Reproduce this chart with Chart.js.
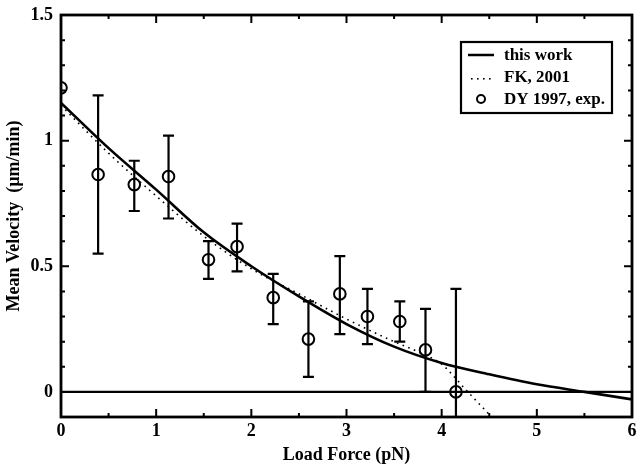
<!DOCTYPE html>
<html>
<head>
<meta charset="utf-8">
<script src="https://cdn.jsdelivr.net/npm/chart.js@4/dist/chart.umd.min.js"></script>
<style>
  html, body { margin: 0; padding: 0; background: #fff; }
  #wrap { width: 637px; height: 466px; }
</style>
</head>
<body>
<div id="wrap"><canvas id="velChart"></canvas></div>
<script>
// experimental points (DY 1997)
const forceExp = [0, 0.39, 0.77, 1.13, 1.55, 1.85, 2.23, 2.6, 2.93, 3.22, 3.56, 3.83, 4.15];
const velExp   = [1.21, 0.865, 0.825, 0.857, 0.526, 0.578, 0.375, 0.21, 0.39, 0.30, 0.28, 0.167, 0];
const errHigh  = [null, 1.18, 0.92, 1.02, 0.60, 0.67, 0.47, 0.36, 0.54, 0.41, 0.36, 0.33, 0.41];
const errLow   = [null, 0.55, 0.72, 0.69, 0.45, 0.48, 0.27, 0.06, 0.23, 0.19, 0.20, 0.0, -0.1];

// model curves
const forceModel  = [0, 0.5, 1, 1.5, 2, 2.5, 3, 3.5, 4, 4.5, 5, 5.5, 6];
const velThisWork = [1.15, 0.97, 0.805, 0.635, 0.50, 0.38, 0.27, 0.18, 0.115, 0.07, 0.03, 0.0, -0.03];
const forceFK     = [0, 0.5, 1, 1.5, 2, 2.5, 3, 3.5, 3.75, 4, 4.25, 4.5];
const velFK       = [1.14, 0.95, 0.78, 0.62, 0.49, 0.39, 0.29, 0.20, 0.16, 0.11, 0.01, -0.09];

const xTicks = [0, 1, 2, 3, 4, 5, 6];
const yTicks = [0, 0.5, 1, 1.5];

const serif = '"Liberation Serif", "Times New Roman", serif';

const toPts = (xs, ys) => xs.map((x, i) => ({ x: x, y: ys[i] }));

// frame, inward ticks, error bars, legend
const decor = {
  id: 'decor',
  afterDatasetsDraw(chart) {
    const ctx = chart.ctx;
    const a = chart.chartArea;
    const xs = chart.scales.x, ys = chart.scales.y;
    ctx.save();
    ctx.strokeStyle = '#000';

    // error bars
    ctx.lineWidth = 2.2;
    forceExp.forEach((f, i) => {
      if (errHigh[i] === null) return;
      const px = xs.getPixelForValue(f);
      const top = ys.getPixelForValue(errHigh[i]);
      const bot = Math.min(ys.getPixelForValue(errLow[i]), a.bottom);
      ctx.beginPath();
      ctx.moveTo(px, top); ctx.lineTo(px, bot);
      ctx.moveTo(px - 5.5, top); ctx.lineTo(px + 5.5, top);
      if (bot < a.bottom) { ctx.moveTo(px - 5.5, bot); ctx.lineTo(px + 5.5, bot); }
      ctx.stroke();
    });

    // frame
    ctx.lineWidth = 2.8;
    ctx.strokeRect(a.left, a.top, a.right - a.left, a.bottom - a.top);

    // ticks
    ctx.lineWidth = 2;
    ctx.beginPath();
    for (let v = 0; v <= 6.001; v += 0.5) {
      const px = xs.getPixelForValue(v);
      const len = Math.abs(v - Math.round(v)) < 1e-6 ? 8 : 4;
      ctx.moveTo(px, a.bottom); ctx.lineTo(px, a.bottom - len);
      ctx.moveTo(px, a.top); ctx.lineTo(px, a.top + len);
    }
    for (let k = -1; k <= 15; k++) {
      const v = k / 10;
      const py = ys.getPixelForValue(v);
      const len = k % 5 === 0 ? 8 : 4;
      ctx.moveTo(a.left, py); ctx.lineTo(a.left + len, py);
      ctx.moveTo(a.right, py); ctx.lineTo(a.right - len, py);
    }
    ctx.stroke();

    // legend
    const bx = 461, by = 42, bw = 151, bh = 71;
    ctx.fillStyle = '#fff';
    ctx.fillRect(bx, by, bw, bh);
    ctx.lineWidth = 2.2;
    ctx.strokeRect(bx, by, bw, bh);
    ctx.fillStyle = '#000';
    ctx.font = 'bold 17px ' + serif;
    ctx.textBaseline = 'middle';
    const rows = [chart.data.datasets[0].label, chart.data.datasets[1].label, chart.data.datasets[2].label];
    rows.forEach((lab, i) => {
      const ry = by + 13 + i * 22;
      ctx.fillText(lab, bx + 43, ry + 1);
      ctx.beginPath();
      if (i === 0) {
        ctx.lineWidth = 2.5;
        ctx.moveTo(bx + 7, ry); ctx.lineTo(bx + 33, ry); ctx.stroke();
      } else if (i === 1) {
        for (let d = 0; d < 4; d++) ctx.fillRect(bx + 10 + d * 6, ry + 1, 1.6, 1.6);
      } else {
        ctx.lineWidth = 2;
        ctx.arc(bx + 20, ry, 4, 0, Math.PI * 2); ctx.stroke();
      }
    });
    ctx.restore();
  }
};

new Chart(document.getElementById('velChart'), {
  type: 'scatter',
  data: {
    datasets: [
      {
        label: 'this work',
        data: toPts(forceModel, velThisWork),
        showLine: true,
        borderColor: '#000',
        borderWidth: 2.6,
        pointRadius: 0,
        cubicInterpolationMode: 'monotone'
      },
      {
        label: 'FK, 2001',
        data: toPts(forceFK, velFK),
        showLine: true,
        borderColor: '#000',
        borderWidth: 1.6,
        borderDash: [1.6, 4.5],
        pointRadius: 0,
        cubicInterpolationMode: 'monotone'
      },
      {
        label: 'DY 1997, exp.',
        data: toPts(forceExp, velExp),
        showLine: false,
        pointRadius: 5.8,
        pointBorderWidth: 2,
        pointBorderColor: '#000',
        pointBackgroundColor: 'rgba(0,0,0,0)'
      },
      {
        label: 'zero',
        data: toPts([0, 6], [0, 0]),
        showLine: true,
        borderColor: '#000',
        borderWidth: 2.4,
        pointRadius: 0
      }
    ]
  },
  options: {
    responsive: true,
    maintainAspectRatio: false,
    animation: false,
    layout: { autoPadding: false, padding: { top: 15, right: 5, left: 0, bottom: 0 } },
    plugins: {
      legend: { display: false },
      tooltip: { enabled: false }
    },
    scales: {
      x: {
        type: 'linear',
        min: 0,
        max: 6,
        grid: { display: false, drawTicks: false },
        border: { display: false },
        afterBuildTicks: s => { s.ticks = xTicks.map(v => ({ value: v })); },
        afterFit: s => { s.height = 49; s.paddingRight = 0; s.paddingLeft = 0; },
        ticks: {
          color: '#000',
          padding: 4,
          maxRotation: 0,
          font: { family: serif, size: 18, weight: 'bold' },
          callback: v => String(v)
        },
        title: {
          display: true,
          text: 'Load Force (pN)',
          color: '#000',
          padding: { top: 0, bottom: 0 },
          font: { family: serif, size: 18, weight: 'bold' }
        }
      },
      y: {
        type: 'linear',
        min: -0.1,
        max: 1.5,
        grid: { display: false, drawTicks: false },
        border: { display: false },
        afterBuildTicks: s => { s.ticks = yTicks.map(v => ({ value: v })); },
        afterFit: s => { s.width = 61; s.paddingTop = 0; },
        ticks: {
          color: '#000',
          padding: 8,
          font: { family: serif, size: 18, weight: 'bold' },
          callback: v => String(v)
        },
        title: {
          display: true,
          text: 'Mean Velocity  (\u00b5m/min)',
          color: '#000',
          padding: { top: 4, bottom: 0 },
          font: { family: serif, size: 18, weight: 'bold' }
        }
      }
    }
  },
  plugins: [decor]
});
</script>
</body>
</html>
